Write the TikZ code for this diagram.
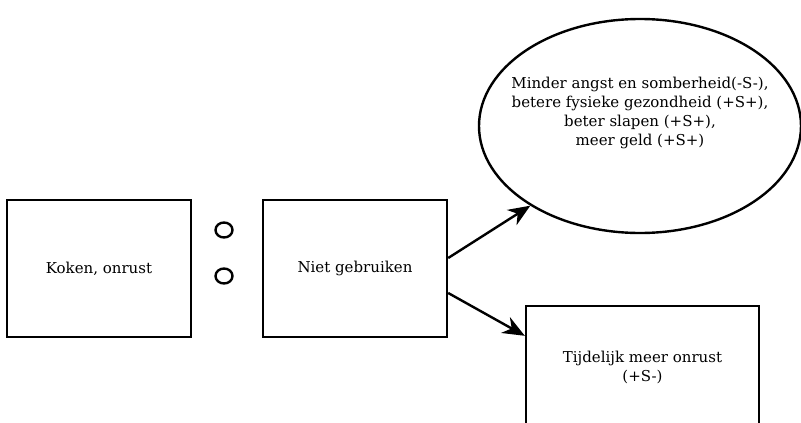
\documentclass[tikz,border=0pt]{standalone}
\usepackage{fontspec}
\setmainfont{DejaVu Serif}
\usetikzlibrary{shapes.geometric,arrows.meta}
\begin{document}
\begin{tikzpicture}[x=1pt,y=-1pt,
  every node/.style={font=\fontsize{15}{19}\selectfont},
  boxnode/.style={draw, line width=2.4pt, rectangle, inner sep=0pt},
  ringnode/.style={draw, line width=2.4pt, ellipse, minimum width=17pt, minimum height=15pt, inner sep=0pt},
  arrowline/.style={line width=2.4pt, -{Stealth[length=22pt,width=18pt,inset=7pt]}}]
\useasboundingbox (0,0) rectangle (801,423);
\clip (0,0) rectangle (801,423);
\node[boxnode, minimum width=184pt, minimum height=137pt] (koken) at (99,268.5) {Koken, onrust};
\node[boxnode, minimum width=184pt, minimum height=137pt] (niet) at (355,268.5) {Niet gebruiken};
\node[ringnode] (r1) at (224,230) {};
\node[ringnode] (r2) at (224,276) {};
\node[draw, line width=2.4pt, ellipse, minimum width=322pt, minimum height=214pt, inner sep=0pt,
  label={[align=center, yshift=13pt, font=\fontsize{15}{19}\selectfont]center:{Minder angst en somberheid(-S-),\\ betere fysieke gezondheid (+S+),\\ beter slapen (+S+),\\ meer geld (+S+)}}] (gevolg) at (640,126) {};
\node[boxnode, minimum width=233pt, minimum height=122pt, align=center] (tijd) at (642.5,367) {Tijdelijk meer onrust\\ (+S-)};
\draw[arrowline] ([yshift=10.5pt]niet.east) -- (gevolg.216);
\draw[arrowline] ([yshift=-24.5pt]niet.east) -- ([yshift=-31pt]tijd.north west);
\end{tikzpicture}
\end{document}
